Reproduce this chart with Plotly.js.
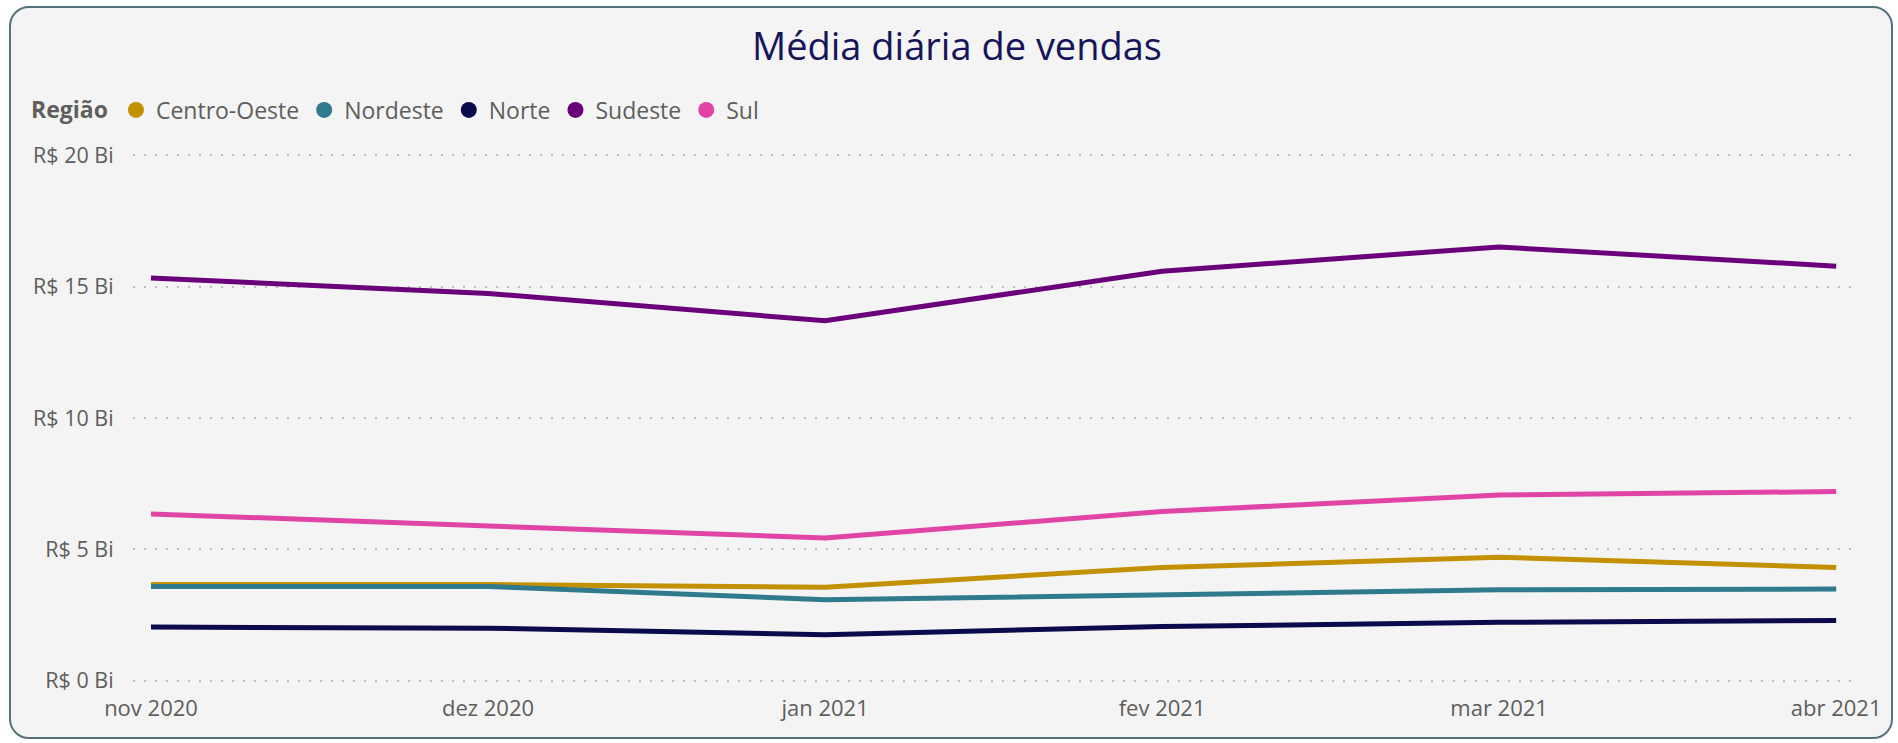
<!DOCTYPE html>
<html>
<head>
<meta charset="utf-8">
<script src="https://cdn.plot.ly/plotly-3.0.1.min.js"></script>
<style>
  html, body { margin: 0; padding: 0; background: #ffffff; width: 1898px; height: 743px; overflow: hidden; }
  #card { position: absolute; left: 9px; top: 6px; width: 1884px; height: 733px; box-sizing: border-box;
          border: 2px solid #56727b; border-radius: 20px; background: #f3f4f3; }
  #chart { position: absolute; left: 0; top: 0; width: 1898px; height: 743px; }
</style>
</head>
<body>
<div id="card"></div>
<div id="chart"></div>
<script>
// Months (x categories)
const months = ["nov 2020", "dez 2020", "jan 2021", "fev 2021", "mar 2021", "abr 2021"];

// Average daily sales by region, in R$ billions
const centroOeste = [3.66, 3.66, 3.56, 4.31, 4.70, 4.31];
const nordeste    = [3.59, 3.59, 3.08, 3.28, 3.46, 3.49];
const norte       = [2.04, 2.00, 1.75, 2.06, 2.22, 2.29];
const sudeste     = [15.33, 14.74, 13.70, 15.59, 16.51, 15.78];
const sul         = [6.35, 5.87, 5.43, 6.44, 7.07, 7.20];

const regionNames = ["Centro-Oeste", "Nordeste", "Norte", "Sudeste", "Sul"];
const regionSeries = [centroOeste, nordeste, norte, sudeste, sul];
const regionColors = ["#c29000", "#2f7a8c", "#0a0a4c", "#6b007b", "#e044a7"];

const traces = [];
regionNames.forEach((name, i) => {
  traces.push({
    type: "scatter", mode: "lines", name: name,
    x: months, y: regionSeries[i],
    line: { color: regionColors[i], width: 5 },
    showlegend: false, legendgroup: name,
    hovertemplate: name + "<br>%{x}: R$ %{y:.2f} Bi<extra></extra>"
  });
});
// Legend entries (circle symbols, like the original)
regionNames.forEach((name, i) => {
  traces.push({
    type: "scatter", mode: "markers", name: name,
    x: [null], y: [null],
    marker: { color: regionColors[i], size: 20, symbol: "circle" },
    showlegend: true, legendgroup: name, hoverinfo: "skip"
  });
});

const W = 1898, H = 743;
const layout = {
  width: W, height: H,
  paper_bgcolor: "rgba(0,0,0,0)",
  plot_bgcolor: "rgba(0,0,0,0)",
  font: { family: "Open Sans, Noto Sans, sans-serif", color: "#605e5c" },
  margin: { l: 133, r: 46, t: 154, b: 61, pad: 0 },
  title: {
    text: "Média diária de vendas",
    font: { size: 38, color: "#16145a", family: "Open Sans, Noto Sans, sans-serif" },
    xref: "container", x: 957 / W, xanchor: "center",
    yref: "container", y: 1 - 47 / H, yanchor: "middle"
  },
  showlegend: true,
  legend: {
    orientation: "h",
    xref: "container", yref: "container",
    x: 29 / W, xanchor: "left",
    y: 1 - 110 / H, yanchor: "middle",
    font: { size: 23, color: "#605e5c" },
    title: { text: "<b>Região</b>", font: { size: 23, color: "#605e5c" }, side: "left" },
    itemwidth: 30,
    tracegroupgap: 0,
    bgcolor: "rgba(0,0,0,0)"
  },
  xaxis: {
    type: "category",
    range: [-0.0534, 5.047],
    showgrid: false, zeroline: false, showline: false,
    ticks: "outside", ticklen: 7, tickcolor: "rgba(0,0,0,0)",
    tickfont: { size: 22, color: "#605e5c" },
    fixedrange: true
  },
  yaxis: {
    range: [-0.05, 20.05],
    tickmode: "linear", tick0: 0, dtick: 5,
    tickprefix: "R$ ", ticksuffix: " Bi",
    showgrid: true, gridcolor: "#bdbdbd", griddash: "2px,9px", gridwidth: 1.5,
    zeroline: false, showline: false,
    ticks: "outside", ticklen: 14, tickcolor: "rgba(0,0,0,0)",
    tickfont: { size: 21.5, color: "#605e5c" },
    fixedrange: true
  }
};

Plotly.newPlot("chart", traces, layout, { displayModeBar: false });
</script>
</body>
</html>
